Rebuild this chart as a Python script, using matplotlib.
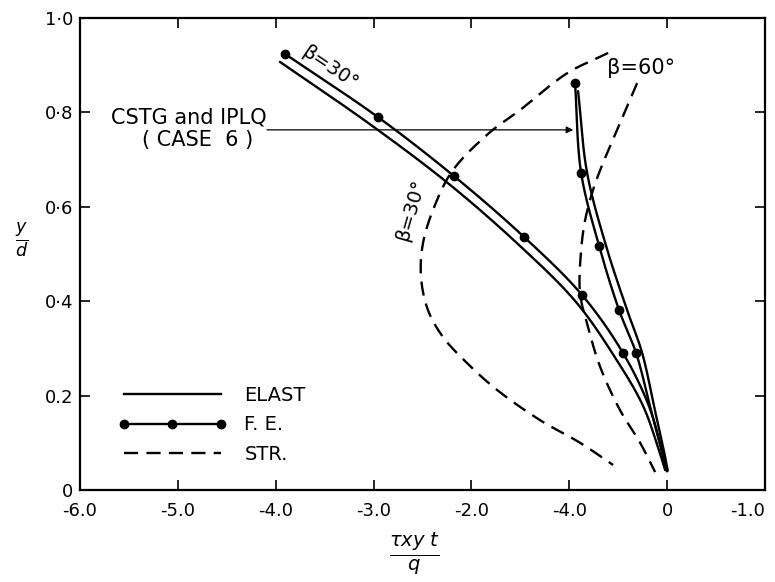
import numpy as np
import matplotlib
matplotlib.use("Agg")
import matplotlib.pyplot as plt
from matplotlib.lines import Line2D

# ── Data ─────────────────────────────────────────────────────
# beta = 30 deg, elastic solution (solid)
elast30_x = [-3.957, -3.037, -2.239, -1.524, -0.930, -0.530, -0.250, -0.100, -0.020]
elast30_y = [0.907, 0.775, 0.650, 0.521, 0.398, 0.280, 0.180, 0.095, 0.042]

# beta = 30 deg, finite element (dots)
fe30_x = [-3.906, -2.955, -2.178, -1.462, -0.869, -0.450, -0.190, -0.060, 0.0]
fe30_y = [0.924, 0.790, 0.665, 0.536, 0.413, 0.290, 0.180, 0.090, 0.040]
fe30_dots = [0, 1, 2, 3, 4, 5]

# beta = 60 deg, elastic solution (solid)
elast60_x = [-0.910, -0.818, -0.624, -0.409, -0.255, -0.125, -0.035, 0.005]
elast60_y = [0.845, 0.672, 0.517, 0.381, 0.290, 0.169, 0.085, 0.042]

# beta = 60 deg, finite element (dots)
fe60_x = [-0.941, -0.879, -0.695, -0.491, -0.317, -0.165, -0.060, 0.0]
fe60_y = [0.862, 0.672, 0.517, 0.381, 0.290, 0.169, 0.085, 0.042]
fe60_dots = [0, 1, 2, 3, 4]

# strut model (dashed)
str30_x = [-0.603, -1.022, -1.503, -1.810, -2.188, -2.372, -2.495, -2.515,
           -2.444, -2.290, -2.045, -1.738, -1.299, -0.890, -0.552]
str30_y = [0.926, 0.883, 0.805, 0.758, 0.678, 0.604, 0.523, 0.451,
           0.381, 0.324, 0.269, 0.212, 0.148, 0.100, 0.053]
str60_x = [-0.307, -0.481, -0.644, -0.757, -0.838, -0.879, -0.890,
           -0.808, -0.685, -0.481, -0.276, -0.123]
str60_y = [0.862, 0.778, 0.699, 0.636, 0.572, 0.508, 0.417,
           0.345, 0.261, 0.169, 0.100, 0.038]

x_ticks = [-6, -5, -4, -3, -2, -1, 0, 1]
x_ticklabels = ["-6.0", "-5.0", "-4.0", "-3.0", "-2.0", "-4.0", "0", "-1.0"]
y_ticks = [0, 0.2, 0.4, 0.6, 0.8, 1.0]
y_ticklabels = ["0", "0.2", "0·4", "0·6", "0·8", "1·0"]

LW = 1.7
DASH = (6, 3.5)
XSCALE = 97.9 / 472  # x units -> y units on screen

plt.rcParams["font.family"] = ["DejaVu Sans"]
plt.rcParams["mathtext.fontset"] = "dejavusans"

fig = plt.figure(figsize=(7.75, 5.82), dpi=100)
ax = fig.add_axes([80 / 775, 1 - 490 / 582, 685 / 775, 472 / 582])


def smooth(xs, ys, n=25):
    # centripetal Catmull-Rom through the read points
    p = np.column_stack([np.asarray(xs, float) * XSCALE, np.asarray(ys, float)])
    p = np.vstack([2 * p[0] - p[1], p, 2 * p[-1] - p[-2]])
    out = []
    for i in range(1, len(p) - 2):
        p0, p1, p2, p3 = p[i - 1], p[i], p[i + 1], p[i + 2]
        t0 = 0.0
        t1 = t0 + np.linalg.norm(p1 - p0) ** 0.5
        t2 = t1 + np.linalg.norm(p2 - p1) ** 0.5
        t3 = t2 + np.linalg.norm(p3 - p2) ** 0.5
        t = np.linspace(t1, t2, n)[:, None]
        a1 = (t1 - t) / (t1 - t0) * p0 + (t - t0) / (t1 - t0) * p1
        a2 = (t2 - t) / (t2 - t1) * p1 + (t - t1) / (t2 - t1) * p2
        a3 = (t3 - t) / (t3 - t2) * p2 + (t - t2) / (t3 - t2) * p3
        b1 = (t2 - t) / (t2 - t0) * a1 + (t - t0) / (t2 - t0) * a2
        b2 = (t3 - t) / (t3 - t1) * a2 + (t - t1) / (t3 - t1) * a3
        c = (t2 - t) / (t2 - t1) * b1 + (t - t1) / (t2 - t1) * b2
        out.append(c)
    c = np.vstack(out)
    return c[:, 0] / XSCALE, c[:, 1]


for xs, ys in [(elast30_x, elast30_y), (elast60_x, elast60_y)]:
    sx, sy = smooth(xs, ys)
    ax.plot(sx, sy, color="black", lw=LW, solid_capstyle="round")

for xs, ys, dots in [(fe30_x, fe30_y, fe30_dots), (fe60_x, fe60_y, fe60_dots)]:
    sx, sy = smooth(xs, ys)
    ax.plot(sx, sy, color="black", lw=LW)
    ax.plot([xs[i] for i in dots], [ys[i] for i in dots], "o",
            color="black", ms=6)

for xs, ys in [(str30_x, str30_y), (str60_x, str60_y)]:
    sx, sy = smooth(xs, ys)
    ax.plot(sx, sy, color="black", lw=LW, dashes=DASH)

# annotations
ax.annotate("", xy=(-0.96, 0.763), xytext=(-4.09, 0.763),
            arrowprops=dict(arrowstyle="-|>", color="black", lw=0.9,
                            mutation_scale=10, shrinkA=0, shrinkB=0))
ax.text(-4.89, 0.790, "CSTG and IPLQ", ha="center", va="center", fontsize=15)
ax.text(-4.80, 0.742, "( CASE  6 )", ha="center", va="center", fontsize=15)
ax.text(-3.45, 0.895, "β=30°", ha="center", va="center", fontsize=14,
        rotation=-34)
ax.text(-2.62, 0.593, "β=30°", ha="center", va="center", fontsize=14,
        rotation=74)
ax.text(-0.27, 0.894, "β=60°", ha="center", va="center", fontsize=15)

# legend
handles = [
    Line2D([], [], color="black", lw=LW),
    Line2D([], [], color="black", lw=LW, marker="o", ms=6),
    Line2D([], [], color="black", lw=LW, dashes=DASH),
]
ax.legend(handles, ["ELAST", "F. E.", "STR."], loc="upper left",
          bbox_to_anchor=(0.03, 0.258), frameon=False, numpoints=3,
          handlelength=5.6, handletextpad=0.9, labelspacing=0.55,
          fontsize=14)

ax.set_xlim(-6, 1)
ax.set_ylim(0, 1)
ax.set_xticks(x_ticks)
ax.set_xticklabels(x_ticklabels, fontsize=13)
ax.set_yticks(y_ticks)
ax.set_yticklabels(y_ticklabels, fontsize=13)
ax.tick_params(direction="in", length=7, width=1.2, top=True, right=True)
ax.tick_params(axis="x", pad=9)
ax.tick_params(axis="y", pad=5)
ax.get_xticklabels()[-1].set_ha("right")
for s in ax.spines.values():
    s.set_linewidth(1.6)

fig.text(415 / 775, 1 - 553 / 582, r"$\frac{\tau xy\ t}{q}$",
         ha="center", va="center", fontsize=20)
fig.text(22 / 775, 1 - 240 / 582, r"$\frac{y}{d}$",
         ha="center", va="center", fontsize=18)

fig.savefig("out.png", dpi=100)
